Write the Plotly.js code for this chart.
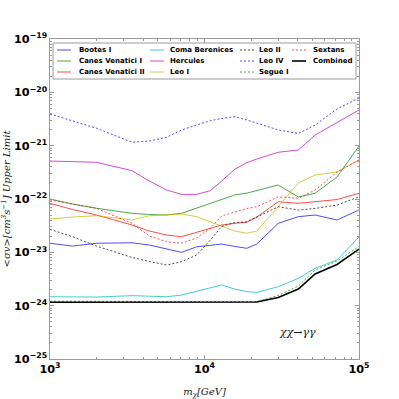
<!DOCTYPE html>
<html><head><meta charset="utf-8">
<script src="https://cdn.plot.ly/plotly-3.0.1.min.js"></script>
<style>html,body{margin:0;padding:0;background:#fff}#chart{width:399px;height:399px}</style>
</head><body><div id="chart"></div>
<script>
// Dark-matter mass grid (GeV)
const mass = [1000, 1400, 2000, 3400, 4400, 5700, 7100, 8900, 10900, 12900, 15700, 18800, 21800, 30000, 40500, 52000, 72000, 100000];

// <sigma v> upper limits (cm^3 s^-1)
const bootesI = [1.48e-23, 1.31e-23, 1.48e-23, 1.51e-23, 1.37e-23, 1.15e-23, 1.00e-23, 1.27e-23, 1.37e-23, 1.43e-23, 1.29e-23, 1.19e-23, 1.43e-23, 3.50e-23, 4.66e-23, 5.01e-23, 4.04e-23, 6.22e-23];
const canesVenaticiI = [1.00e-22, 8.05e-23, 6.69e-23, 5.39e-23, 5.12e-23, 5.01e-23, 5.39e-23, 6.78e-23, 8.30e-23, 1.00e-22, 1.19e-22, 1.29e-22, 1.43e-22, 1.83e-22, 1.09e-22, 1.28e-22, 2.58e-22, 9.86e-22];
const canesVenaticiII = [8.30e-23, 6.35e-23, 5.01e-23, 3.25e-23, 2.51e-23, 2.11e-23, 1.96e-23, 2.40e-23, 2.82e-23, 3.25e-23, 3.50e-23, 3.66e-23, 4.59e-23, 8.89e-23, 8.30e-23, 8.89e-23, 9.77e-23, 1.28e-22];
const comaBerenices = [1.47e-24, 1.44e-24, 1.45e-24, 1.54e-24, 1.52e-24, 1.47e-24, 1.58e-24, 1.88e-24, 2.14e-24, 2.44e-24, 2.05e-24, 1.83e-24, 1.77e-24, 2.27e-24, 3.26e-24, 5.01e-24, 7.18e-24, 1.94e-23];
const hercules = [5.15e-22, 5.05e-22, 4.88e-22, 3.39e-22, 2.17e-22, 1.47e-22, 1.22e-22, 1.22e-22, 1.43e-22, 2.17e-22, 3.61e-22, 4.79e-22, 5.62e-22, 7.52e-22, 8.30e-22, 1.58e-21, 2.70e-21, 4.67e-21];
const leoI = [4.21e-23, 4.59e-23, 4.86e-23, 4.04e-23, 4.86e-23, 5.12e-23, 5.24e-23, 4.66e-23, 3.75e-23, 3.12e-23, 2.51e-23, 2.28e-23, 2.51e-23, 7.16e-23, 2.00e-22, 2.82e-22, 3.21e-22, 5.38e-22];
const leoII = [2.70e-23, 1.96e-23, 1.31e-23, 8.00e-24, 6.73e-24, 5.78e-24, 6.67e-24, 8.91e-24, 1.70e-23, 3.05e-23, 3.62e-23, 3.75e-23, 4.59e-23, 7.16e-23, 6.22e-23, 6.64e-23, 7.71e-23, 1.10e-22];
const leoIV = [3.93e-21, 2.90e-21, 2.12e-21, 1.16e-21, 1.22e-21, 1.44e-21, 1.97e-21, 2.44e-21, 2.94e-21, 3.23e-21, 3.49e-21, 3.03e-21, 2.63e-21, 1.97e-21, 1.69e-21, 2.44e-21, 4.87e-21, 7.83e-21];
const segueI = [1.21e-24, 1.20e-24, 1.20e-24, 1.21e-24, 1.20e-24, 1.20e-24, 1.20e-24, 1.20e-24, 1.20e-24, 1.20e-24, 1.20e-24, 1.20e-24, 1.19e-24, 1.55e-24, 2.34e-24, 4.67e-24, 6.87e-24, 1.29e-23];
const sextans = [9.58e-23, 8.05e-23, 6.69e-23, 3.50e-23, 2.02e-23, 1.58e-23, 1.48e-23, 1.86e-23, 2.82e-23, 4.80e-23, 5.70e-23, 6.64e-23, 7.16e-23, 1.10e-22, 1.03e-22, 1.47e-22, 3.21e-22, 5.38e-22];
const combined = [1.16e-24, 1.16e-24, 1.16e-24, 1.16e-24, 1.16e-24, 1.16e-24, 1.16e-24, 1.16e-24, 1.16e-24, 1.16e-24, 1.16e-24, 1.16e-24, 1.17e-24, 1.42e-24, 2.05e-24, 3.93e-24, 5.91e-24, 1.15e-23];

const names = ["Bootes I", "Canes Venatici I", "Canes Venatici II", "Coma Berenices", "Hercules", "Leo I", "Leo II", "Leo IV", "Segue I", "Sextans", "Combined"];
const values = [bootesI, canesVenaticiI, canesVenaticiII, comaBerenices, hercules, leoI, leoII, leoIV, segueI, sextans, combined];
const colors = ["rgba(0,0,255,0.7)", "rgba(0,128,0,0.7)", "rgba(255,0,0,0.7)", "rgba(0,191,191,0.75)", "rgba(191,0,191,0.7)", "rgba(191,191,0,0.75)", "rgba(0,0,0,0.7)", "rgba(0,0,255,0.7)", "rgba(0,128,0,0.7)", "rgba(255,0,0,0.7)", "rgb(0,0,0)"];
const dashes = ["solid", "solid", "solid", "solid", "solid", "solid", "2px,2px", "2px,2px", "2px,2px", "2px,2px", "solid"];
const widths = [1, 1, 1, 1, 1, 1, 1, 1, 1, 1, 1.6];

const traces = names.map((n, i) => ({
  type: "scatter", mode: "lines", name: n,
  x: mass, y: values[i],
  line: {color: colors[i], width: widths[i], dash: dashes[i]},
  showlegend: false, hoverinfo: "skip"
}));

// manual legend (4 columns x 3 rows) in paper coordinates
const W = 309, H = 320, L = 50, T = 39;
const px = p => (p - L) / W;
const py = p => (T + H - p) / H;
const colLine = [57, 150, 240, 292];
const colText = [77, 168, 257, 311];
const rowY = [50, 61, 72];
const shapes = [{
  type: "rect", xref: "paper", yref: "paper",
  x0: px(53), x1: px(356), y0: py(79), y1: py(43),
  line: {color: "#9a9a9a", width: 1}, fillcolor: "rgba(255,255,255,0.85)", layer: "above"
}];
const annotations = [];
names.forEach((n, i) => {
  const c = Math.floor(i / 3), r = i % 3;
  shapes.push({
    type: "line", xref: "paper", yref: "paper",
    x0: px(colLine[c]), x1: px(colLine[c] + 14), y0: py(rowY[r]), y1: py(rowY[r]),
    line: {color: colors[i], width: widths[i], dash: dashes[i]}, layer: "above"
  });
  annotations.push({
    xref: "paper", yref: "paper", x: px(colText[c]), y: py(rowY[r]),
    xanchor: "left", yanchor: "middle", showarrow: false, text: n,
    font: {family: "DejaVu Sans", size: 7, weight: "bold", color: "black"}
  });
});
annotations.push({
  xref: "paper", yref: "paper", x: px(297), y: py(332), xanchor: "center", yanchor: "middle",
  showarrow: false, text: "<i>χχ→γγ</i>",
  font: {family: "DejaVu Serif", size: 11, color: "#222"}
});

const axisCommon = {
  type: "log", dtick: 1, exponentformat: "power",
  showline: true, linecolor: "#9a9a9a", linewidth: 1, mirror: "allticks",
  ticks: "inside", ticklen: 4, tickcolor: "#9a9a9a", tickwidth: 1,
  showgrid: false, zeroline: false,
  tickfont: {family: "DejaVu Sans", size: 9, weight: "bold", color: "black"},
  minor: {ticks: "inside", ticklen: 2, tickcolor: "#9a9a9a", showgrid: false}
};

const layout = {
  width: 399, height: 399,
  margin: {l: L, r: 399 - L - W, t: T, b: 399 - T - H},
  paper_bgcolor: "white", plot_bgcolor: "white",
  showlegend: false,
  xaxis: Object.assign({}, axisCommon, {
    range: [3, 5],
    title: {text: "<i>m<sub>χ</sub>[GeV]</i>", font: {family: "DejaVu Serif", size: 10, color: "#222"}}
  }),
  yaxis: Object.assign({}, axisCommon, {
    range: [-25, -19],
    title: {text: "<i>&lt;σv&gt;[cm<sup>3</sup>s<sup>−1</sup>] Upper Limit</i>", font: {family: "DejaVu Serif", size: 10, color: "#222"}}
  }),
  shapes: shapes,
  annotations: annotations
};

Plotly.newPlot("chart", traces, layout, {displayModeBar: false, staticPlot: true});
</script>
</body></html>
